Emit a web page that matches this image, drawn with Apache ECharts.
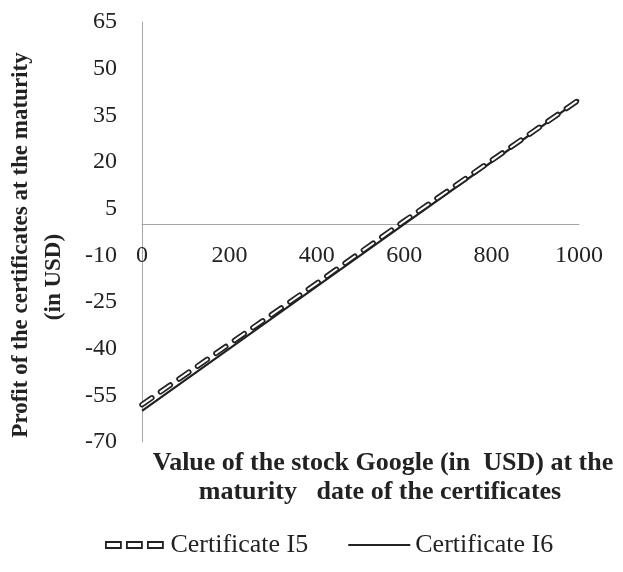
<!DOCTYPE html>
<html>
<head>
<meta charset="utf-8">
<script src="https://cdn.jsdelivr.net/npm/echarts@6/dist/echarts.min.js"></script>
<style>
  html, body { margin: 0; padding: 0; background: #fff; }
  #chart { width: 623px; height: 572px; }
</style>
</head>
<body>
<div id="chart"></div>
<script>
// stock value at maturity (x) and profit of each certificate (y)
const stockValues = [0, 200, 400, 600, 800, 1000];
const certI5 = [-58, -38.5, -19, 1, 20.5, 40];
const certI6 = [-60, -40, -20, 0, 20, 40];
const seriesNames = ["Certificate I5", "Certificate I6"];
const yTicks = { min: -70, max: 65, step: 15 };
const xTicks = { min: 0, max: 1000, step: 200 };
const xTitle = ["Value of the stock Google (in  USD) at the", "maturity   date of the certificates"];
const yTitle = ["Profit of the certificates at the maturity", "(in USD)"];

const FONT = "'Liberation Serif', 'Times New Roman', serif";
const toPairs = (xs, ys) => xs.map((x, i) => [x, ys[i]]);

const myChart = echarts.init(document.getElementById("chart"));
const dash = [12, 10.5];

// plot box
const gridTop = 22, gridBottom = 130, chartH = 572;
const plotH = chartH - gridTop - gridBottom;
// the x axis sits on y = 0, move it up from the bottom of the grid
const zeroFromBottom = plotH * (0 - yTicks.min) / (yTicks.max - yTicks.min);

const titleText = (text, x, y, size, rotation) => ({
  type: "text",
  x: x, y: y,
  rotation: rotation || 0,
  style: {
    text: text,
    align: "center",
    verticalAlign: "middle",
    fill: "#222",
    font: "bold " + size + "px " + FONT,
  },
});

let option = {
  animation: false,
  grid: { left: 142, right: 44, top: gridTop, bottom: gridBottom },
  xAxis: {
    type: "value",
    min: xTicks.min,
    max: xTicks.max,
    interval: xTicks.step,
    offset: -zeroFromBottom,
    axisLine: { onZero: false, lineStyle: { color: "#a6a6a6", width: 1 } },
    axisTick: { show: false },
    splitLine: { show: false },
    axisLabel: {
      margin: 19, color: "#222", fontSize: 24, fontFamily: FONT,
      formatter: (v) => String(v),
    },
  },
  yAxis: {
    type: "value",
    min: yTicks.min,
    max: yTicks.max,
    interval: yTicks.step,
    axisLine: { show: true, onZero: false, lineStyle: { color: "#a6a6a6", width: 1 } },
    axisTick: { show: false },
    splitLine: { show: false },
    axisLabel: { margin: 25, color: "#222", fontSize: 24, fontFamily: FONT },
  },
  legend: {
    data: [
      {
        name: seriesNames[0],
        icon: "path://M0,0 h15 v6 h-15 z M21,0 h15 v6 h-15 z M42,0 h15 v6 h-15 z",
        itemStyle: { color: "#fff", borderColor: "#222", borderWidth: 1.8 },
      },
      {
        name: seriesNames[1],
        icon: "path://M0,0 h66 v2 h-66 z",
        itemStyle: { color: "#222", borderWidth: 0 },
      },
    ],
    top: 527,
    left: 100,
    itemWidth: 62,
    itemHeight: 6,
    itemGap: 40,
    textStyle: { color: "#222", fontSize: 26, fontFamily: FONT },
  },
  graphic: [
    titleText(xTitle[0], 383, 463, 26),
    titleText(xTitle[1], 380, 492, 26),
    titleText(yTitle[0], 21, 245, 23, Math.PI / 2),
    titleText(yTitle[1], 54, 277, 23, Math.PI / 2),
  ],
  series: [
    {
      name: seriesNames[1],
      type: "line",
      data: toPairs(stockValues, certI6),
      symbol: "none",
      lineStyle: { color: "#222", width: 2.2 },
      z: 2,
    },
    {
      name: seriesNames[0],
      type: "line",
      data: toPairs(stockValues, certI5),
      symbol: "none",
      lineStyle: { color: "#222", width: 5.5, type: dash, cap: "round" },
      z: 3,
    },
    {
      // white core of the hollow dashes of I5
      name: "I5 core",
      type: "line",
      data: toPairs(stockValues, certI5),
      symbol: "none",
      lineStyle: { color: "#fff", width: 2, type: dash, cap: "round" },
      z: 4,
    },
  ],
};
option && myChart.setOption(option);
</script>
</body>
</html>
